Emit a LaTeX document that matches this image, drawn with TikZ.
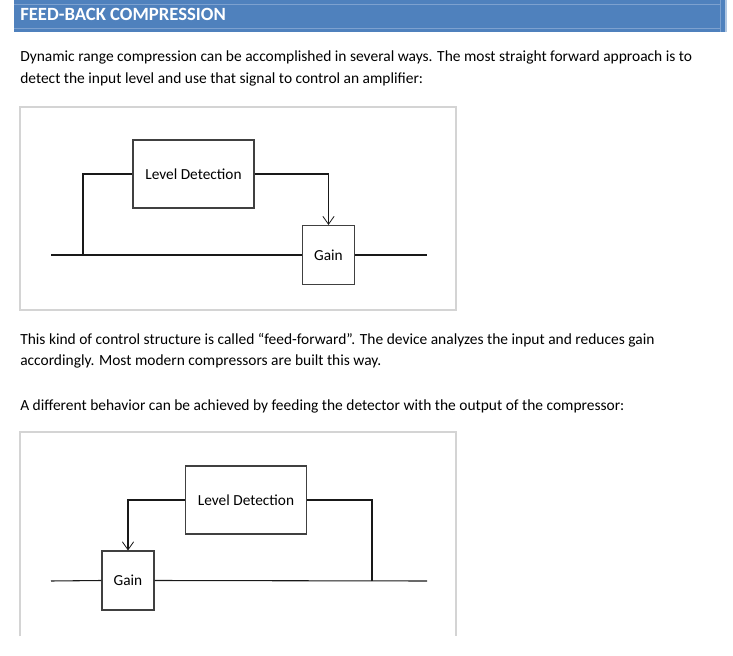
\documentclass[tikz,border=0pt]{standalone}
\usepackage{fontspec}
\setmainfont{Carlito}
\usetikzlibrary{arrows.meta,positioning}
\definecolor{hdrblue}{HTML}{4F81BD}
\definecolor{hdrline}{HTML}{7DA1CF}
\definecolor{framegray}{HTML}{D4D4D4}
\tikzset{
    blockbox/.style={draw=black!75, line width=0.8pt, inner sep=0pt, font=\fontsize{11.5pt}{13pt}\selectfont},
    sigline/.style={draw=black!90, line width=0.8pt},
    bodytext/.style={anchor=base west, inner sep=0pt, font=\fontsize{11.6pt}{13pt}\selectfont},
    >={Straight Barb[length=6pt,width=8.5pt,line width=0.6pt]}
}
\begin{document}
\begin{tikzpicture}[x=0.75pt, y=-0.75pt]
    \useasboundingbox (0,0) rectangle (733,656);
    % heading bar
    \fill[hdrblue] (14,0) rectangle (727,32);
    \draw[hdrline, line width=0.5pt] (14,4) -- (720,4) (14,28) -- (720,28) (720,0) -- (720,32);
    \fill[hdrline!60] (725,0) rectangle (727,32);
    \node[anchor=base west, inner sep=0pt, text=white, font=\fontsize{14pt}{16pt}\selectfont\bfseries] (title) at (20,21) {FEED-BACK COMPRESSION};
    % first paragraph
    \node[bodytext] (par1a) at (20,62) {Dynamic range compression can be accomplished in several ways. The most straight forward approach is to};
    \node[bodytext] (par1b) at (20,84) {detect the input level and use that signal to control an amplifier:};
    % feed-forward diagram
    \draw[framegray, line width=1.1pt] (20,107) rectangle (456,310);
    \node[blockbox, minimum width=90.75pt, minimum height=51pt] (lvl1) at (193.5,174) {Level Detection};
    \node[blockbox, minimum width=39pt, minimum height=44.25pt] (gain1) at (328.5,255) {Gain};
    \coordinate (in1) at (51,255);
    \coordinate (tap1) at (83,255);
    \coordinate (out1) at (427,255);
    \draw[sigline] (in1) -- (gain1.west);
    \draw[sigline] (gain1.east) -- (out1);
    \draw[sigline] (tap1) |- (lvl1.west);
    \draw[sigline, ->] (lvl1.east) -| (gain1.north);
    % second paragraph
    \node[bodytext] (par2a) at (20,345) {This kind of control structure is called “feed-forward”. The device analyzes the input and reduces gain};
    \node[bodytext] (par2b) at (20,366) {accordingly. Most modern compressors are built this way.};
    \node[bodytext] (par3) at (20,411) {A different behavior can be achieved by feeding the detector with the output of the compressor:};
    % feed-back diagram (cut off at the bottom)
    \draw[framegray, line width=1.1pt] (20,636) -- (20,432) -- (456,432) -- (456,636);
    \node[blockbox, minimum width=90.75pt, minimum height=51pt] (lvl2) at (246,500) {Level Detection};
    \node[blockbox, minimum width=39pt, minimum height=44.25pt] (gain2) at (128,580.5) {Gain};
    \coordinate (in2) at (51,581);
    \coordinate (tap2) at (372,581);
    \coordinate (out2) at (427,581);
    \draw[sigline] (in2) -- (gain2.west);
    \draw[sigline] (gain2.east) -- (out2);
    \draw[sigline] (tap2) |- (lvl2.east);
    \draw[sigline, ->] (lvl2.west) -| (gain2.north);
\end{tikzpicture}
\end{document}
